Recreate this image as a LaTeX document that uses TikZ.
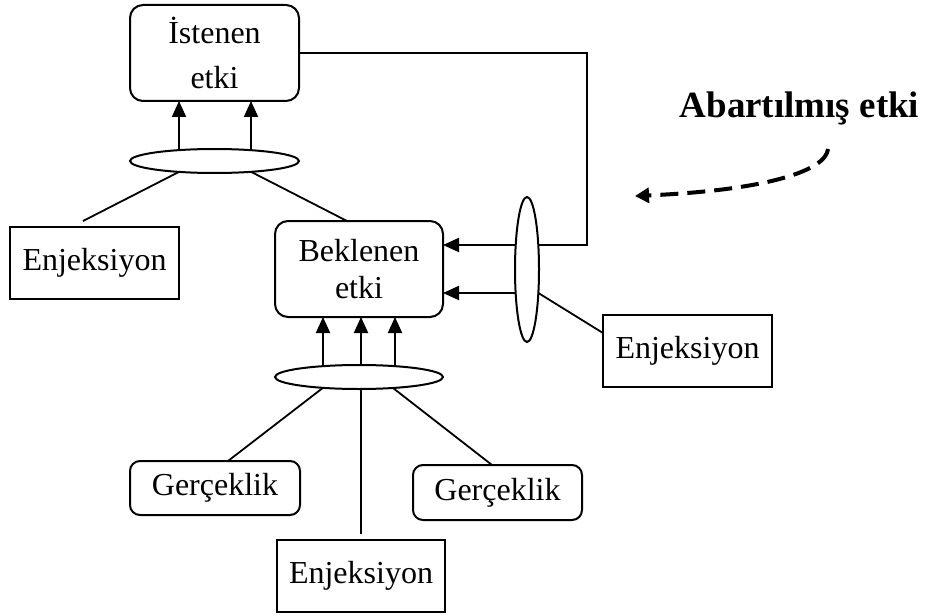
\documentclass[tikz,border=0pt]{standalone}
\usepackage{fontspec}
\setmainfont{Liberation Serif}
\usetikzlibrary{shapes.geometric,arrows.meta,calc}
\begin{document}
\begin{tikzpicture}[x=1pt,y=-1pt,
  every node/.style={outer sep=0pt, font=\fontsize{32}{38}\selectfont},
  rbox/.style={draw, line width=2pt, rounded corners=13pt, inner sep=0pt, align=center},
  sbox/.style={draw, line width=2pt, inner sep=0pt, align=center},
  oval/.style={draw, ellipse, line width=2pt, fill=white, inner sep=0pt},
  link/.style={line width=1.8pt},
  up/.style={line width=2pt, -{Triangle[length=16pt,width=14pt]}},
  hint/.style={line width=4pt, dash pattern=on 18pt off 9pt, -{Triangle[length=14pt,width=15pt]}}
]
\useasboundingbox (0,0) rectangle (926,615);

% boxes
\node[rbox, minimum width=169pt, minimum height=96pt, font=\fontsize{32}{45}\selectfont] (ist) at (214.5,53) {İstenen\\etki};
\node[sbox, minimum width=169pt, minimum height=72pt] (enjL) at (94.5,263) {Enjeksiyon};
\node[rbox, minimum width=168pt, minimum height=96pt, font=\fontsize{32}{37}\selectfont] (bek) at (359,269) {Beklenen\\etki};
\node[sbox, minimum width=169pt, minimum height=72pt] (enjR) at (687.5,351) {Enjeksiyon};
\node[rbox, rounded corners=10pt, minimum width=170pt, minimum height=54pt] (gerL) at (215,488) {Gerçeklik};
\node[rbox, rounded corners=10pt, minimum width=169pt, minimum height=55pt] (gerR) at (497.5,492.5) {Gerçeklik};
\node[sbox, minimum width=168pt, minimum height=72pt] (enjB) at (361,576) {Enjeksiyon};
\node[font=\bfseries\fontsize{37}{44}\selectfont] (abart) at (799.5,108) {Abartılmış etki};

% grouping ovals
\node[oval, minimum width=169pt, minimum height=24pt] (e1) at (214.5,161) {};
\node[oval, minimum width=24pt, minimum height=145pt] (e2) at (527,269.5) {};
\node[oval, minimum width=168pt, minimum height=24pt] (e3) at (359,377) {};

% points on the oval borders
\coordinate (e1a) at ($(e1.center)+(-35.5,-10.9)$);
\coordinate (e1b) at ($(e1.center)+(36.5,-10.8)$);
\coordinate (e1c) at ($(e1.center)+(-35.5,10.9)$);
\coordinate (e1d) at ($(e1.center)+(36.5,10.8)$);
\coordinate (e2a) at ($(e2.center)+(-11.3,-24.5)$);
\coordinate (e2b) at ($(e2.center)+(11.3,-24.5)$);
\coordinate (e2c) at ($(e2.center)+(-11.35,23.5)$);
\coordinate (e2d) at ($(e2.center)+(11.35,23.5)$);
\coordinate (e3a) at ($(e3.center)+(-36,-10.8)$);
\coordinate (e3b) at ($(e3.center)+(2,-12)$);
\coordinate (e3c) at ($(e3.center)+(36,-10.8)$);
\coordinate (e3d) at ($(e3.center)+(-36,10.8)$);
\coordinate (e3e) at ($(e3.center)+(2,12)$);
\coordinate (e3f) at ($(e3.center)+(34,11)$);
\coordinate (enjLtop) at ($(enjL.north)+(-11.5,-6)$);
\coordinate (enjBtop) at ($(enjB.north)+(0,-6)$);
\coordinate (loopTop) at (587,53);
\coordinate (loopBot) at (587,245);

% upper group
\draw[up] (e1a) -- (e1a |- ist.south);
\draw[up] (e1b) -- (e1b |- ist.south);
\draw[link] (e1c) -- (enjLtop);
\draw[link] (e1d) -- ($(bek.north)+(-12,0)$);

% feedback loop and right group
\draw[link] (ist.east) -- (loopTop) -- (loopBot) -- (e2b);
\draw[up] (e2a) -- (e2a -| bek.east);
\draw[up] (e2c) -- (e2c -| bek.east);
\draw[link] (e2d) -- ($(enjR.west)+(0,-18)$);

% lower group
\draw[up] (e3a) -- (e3a |- bek.south);
\draw[up] (e3b) -- (e3b |- bek.south);
\draw[up] (e3c) -- (e3c |- bek.south);
\draw[link] (e3d) -- ($(gerL.north)+(13,0)$);
\draw[link] (e3e) -- (enjBtop);
\draw[link] (e3f) -- ($(gerR.north)+(-5.5,0)$);

% exaggerated effect
\coordinate (hs) at (828,149);
\coordinate (he) at (635,196);
\draw[hint] (hs) .. controls (826,170) and (770,190) .. (he);
\end{tikzpicture}
\end{document}
